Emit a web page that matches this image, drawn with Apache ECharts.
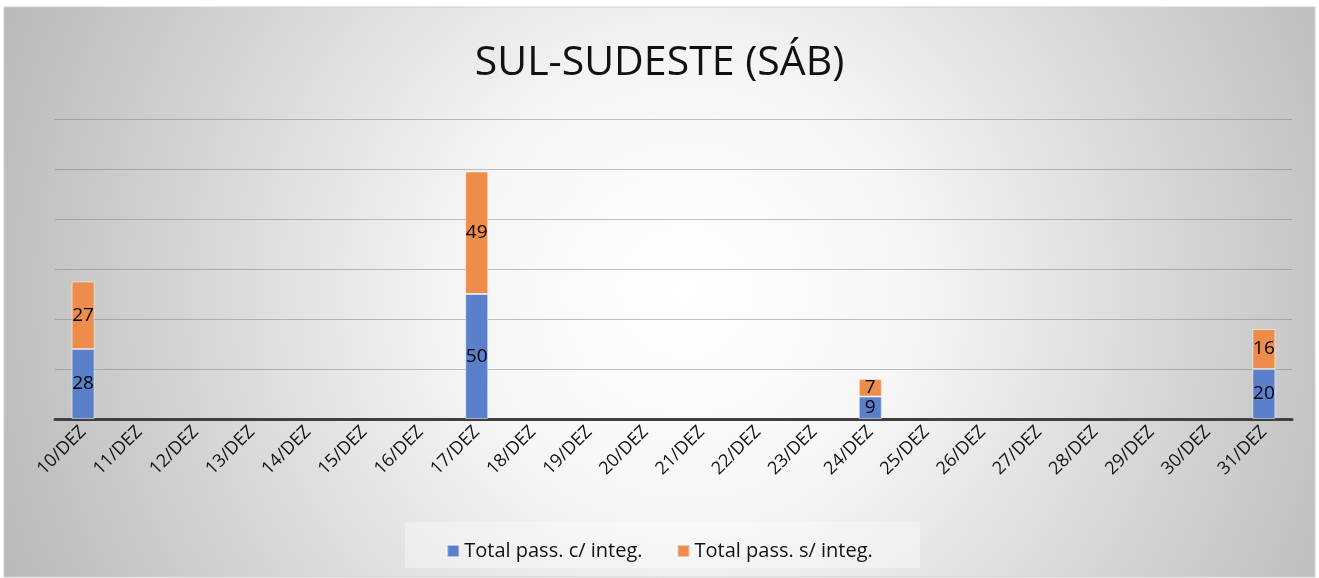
<!DOCTYPE html>
<html>
<head>
<meta charset="utf-8">
<script src="https://cdn.jsdelivr.net/npm/echarts@6/dist/echarts.min.js"></script>
<style>
  html, body { margin: 0; padding: 0; background: #fff; }
  #chart { width: 1319px; height: 578px; }
</style>
</head>
<body>
<div id="chart"></div>
<script>
const days = ['10/DEZ', '11/DEZ', '12/DEZ', '13/DEZ', '14/DEZ', '15/DEZ', '16/DEZ', '17/DEZ', '18/DEZ', '19/DEZ', '20/DEZ',
  '21/DEZ', '22/DEZ', '23/DEZ', '24/DEZ', '25/DEZ', '26/DEZ', '27/DEZ', '28/DEZ', '29/DEZ', '30/DEZ', '31/DEZ'];
const comInteg = [28, null, null, null, null, null, null, 50, null, null, null, null, null, null, 9, null, null, null, null, null, null, 20];
const semInteg = [27, null, null, null, null, null, null, 49, null, null, null, null, null, null, 7, null, null, null, null, null, null, 16];

const font = '"Open Sans", "Noto Sans", sans-serif';
const chart = echarts.init(document.getElementById('chart'));

const label = {
  show: true,
  position: 'inside',
  color: '#000',
  fontSize: 19,
  fontFamily: font
};

chart.setOption({
  animation: false,
  graphic: [
    {
      type: 'rect',
      z: -10,
      shape: { x: 4, y: 7, width: 1311, height: 570 },
      style: {
        fill: {
          type: 'radial', x: 0.52, y: 0.5, r: 1.3,
          colorStops: [
            { offset: 0, color: '#ffffff' },
            { offset: 0.3, color: '#f6f6f6' },
            { offset: 1, color: '#b8b8b8' }
          ]
        },
        stroke: '#d0d0d0',
        lineWidth: 1
      }
    },
    {
      type: 'rect',
      z: -9,
      shape: { x: 405, y: 522, width: 515, height: 46 },
      style: { fill: 'rgba(255,255,255,0.35)' }
    }
  ],
  title: {
    text: 'SUL-SUDESTE (SÁB)',
    left: 'center',
    top: 38,
    textStyle: { fontFamily: font, fontSize: 41, fontWeight: 'normal', color: '#111' }
  },
  legend: {
    bottom: 12,
    left: 'center',
    itemWidth: 12,
    itemHeight: 12,
    itemGap: 34,
    icon: 'rect',
    textStyle: { fontFamily: font, fontSize: 20, color: '#111' },
    data: ['Total pass. c/ integ.', 'Total pass. s/ integ.']
  },
  grid: { left: 55, right: 27, top: 119, bottom: 159 },
  xAxis: {
    type: 'category',
    data: days,
    axisLine: { lineStyle: { color: '#404040', width: 3 } },
    axisTick: { length: 6, lineStyle: { color: '#404040', width: 2 } },
    axisLabel: { rotate: 45, fontFamily: font, fontSize: 18, color: '#111', margin: 10 }
  },
  yAxis: {
    type: 'value',
    min: 0,
    max: 120,
    interval: 20,
    axisLabel: { show: false },
    axisLine: { show: false },
    axisTick: { show: false },
    splitLine: { lineStyle: { color: 'rgba(120,120,120,0.45)', width: 1 } }
  },
  series: [
    {
      name: 'Total pass. c/ integ.',
      type: 'bar',
      stack: 'total',
      barWidth: 23,
      data: comInteg,
      itemStyle: { color: '#5b80cb', borderColor: 'rgba(255,255,255,0.5)', borderWidth: 1 },
      label
    },
    {
      name: 'Total pass. s/ integ.',
      type: 'bar',
      stack: 'total',
      barWidth: 23,
      data: semInteg,
      itemStyle: { color: '#ee8c4b', borderColor: 'rgba(255,255,255,0.5)', borderWidth: 1 },
      label
    }
  ]
});
</script>
</body>
</html>
